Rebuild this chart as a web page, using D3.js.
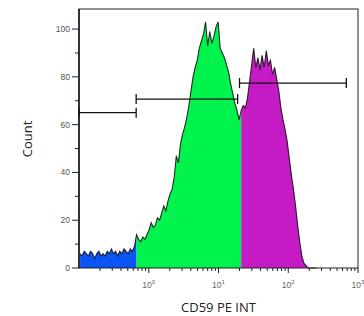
<!DOCTYPE html>
<html>
<head>
<meta charset="utf-8">
<script src="https://cdn.jsdelivr.net/npm/d3@7"></script>
<style>
  body { margin: 0; background: #fff; }
  text { font-family: "Liberation Sans", Arial, sans-serif; }
  text.title { font-family: "Open Sans", "Noto Sans", sans-serif; }
</style>
</head>
<body>
<div id="fig"></div>
<script>
const fig_width = 364
const fig_height = 316
const margin = {left: 79, top: 9, right: 6, bottom: 48}

// histogram bins: log10 start and width (decades), counts
const bin_start = -1
const bin_width = 0.03
const counts = [
  6, 5, 7, 6, 5, 7, 6, 4, 6, 7,
  5, 6, 5, 7, 6, 8, 6, 7, 5, 7,
  6, 8, 7, 6, 8, 7, 9, 14, 12, 11,
  13, 12, 14, 16, 19, 17, 18, 21, 20, 23,
  26, 24, 28, 31, 33, 38, 47, 44, 52, 56,
  59, 63, 68, 74, 80, 84, 87, 92, 95, 98,
  103, 93, 99, 94, 97, 101, 103, 92, 90, 88,
  85, 82, 77, 73, 69, 66, 62, 66, 68, 67,
  71, 78, 85, 92, 84, 88, 83, 89, 84, 91,
  85, 87, 81, 84, 79, 74, 67, 62, 58, 53,
  46, 39, 33, 26, 18, 11, 5, 2, 1, 0,
  0, 0, 0, 0
]

// regions split at bin index (blue / green / magenta)
const regions = [
  {name: 'low', from: 0, to: 27, colour: '#0a55f5'},
  {name: 'mid', from: 27, to: 77, colour: '#00f24c'},
  {name: 'high', from: 77, to: counts.length, colour: '#c51bc5'}
]

// gates: [low, high] on the linear axis, y level in counts
const gates = [
  {lo: 0.1, hi: 0.66, level: 65},
  {lo: 0.66, hi: 18.8, level: 70.7},
  {lo: 20.0, hi: 680, level: 77.4}
]

const y_ticks = [0, 20, 40, 60, 80, 100]
const y_minor = [10, 30, 50, 70, 90]
const x_decades = [0, 1, 2, 3]

let fig = d3.select('#fig')
    .append('svg')
    .attr('width', fig_width)
    .attr('height', fig_height)

let iw = fig_width - margin.left - margin.right
let ih = fig_height - margin.top - margin.bottom

let xScale = d3.scaleLog().domain([0.1, 1000]).range([margin.left, margin.left + iw])
let yScale = d3.scaleLinear().domain([0, 108.4]).range([margin.top + ih, margin.top])

let bins = counts.map((c, i) => ({
    i: i,
    v: Math.pow(10, bin_start + bin_width * (i + 0.5)),
    c: c
}))

let area = d3.area()
    .x(d => xScale(d.v))
    .y0(yScale(0))
    .y1(d => yScale(d.c))

// each filled region, sharing its edge bin with the next so there are no gaps
regions.forEach(r => {
    let part = bins.slice(r.from, Math.min(r.to + 1, bins.length))
    fig.append('path')
        .datum(part)
        .attr('fill', r.colour)
        .attr('d', area)
})

fig.append('path')
    .datum(bins)
    .attr('fill', 'none')
    .attr('stroke', '#000')
    .attr('stroke-opacity', 0.8)
    .attr('stroke-width', 1.1)
    .attr('d', d3.line().x(d => xScale(d.v)).y(d => yScale(d.c)))

// frame
fig.append('rect')
    .attr('x', margin.left)
    .attr('y', margin.top)
    .attr('width', iw)
    .attr('height', ih)
    .attr('fill', 'none')
    .attr('stroke', '#222')
    .attr('stroke-width', 1)

fig.append('line')
    .attr('x1', margin.left).attr('x2', margin.left)
    .attr('y1', margin.top).attr('y2', margin.top + ih)
    .attr('stroke', '#1a1a2a')
    .attr('stroke-width', 1.6)

// y axis ticks
y_ticks.forEach(t => {
    fig.append('line')
        .attr('x1', margin.left - 7).attr('x2', margin.left)
        .attr('y1', yScale(t)).attr('y2', yScale(t))
        .attr('stroke', '#222')
    fig.append('text')
        .attr('x', margin.left - 9)
        .attr('y', yScale(t) + 3)
        .attr('text-anchor', 'end')
        .attr('font-size', 8.5)
        .attr('fill', '#555')
        .text(t)
})
y_minor.forEach(t => {
    fig.append('line')
        .attr('x1', margin.left - 4).attr('x2', margin.left)
        .attr('y1', yScale(t)).attr('y2', yScale(t))
        .attr('stroke', '#222')
})

// x axis ticks (log)
let base_y = margin.top + ih
x_decades.forEach(p => {
    let v = Math.pow(10, p)
    fig.append('line')
        .attr('x1', xScale(v)).attr('x2', xScale(v))
        .attr('y1', base_y).attr('y2', base_y + 5)
        .attr('stroke', '#222')
    let lbl = fig.append('text')
        .attr('x', xScale(v))
        .attr('y', base_y + 20)
        .attr('text-anchor', 'middle')
        .attr('font-size', 8.5)
        .attr('fill', '#666')
    lbl.append('tspan').text('10')
    lbl.append('tspan').attr('dy', -4).attr('font-size', 6).text(p)
})
d3.range(-1, 3).forEach(p => {
    d3.range(2, 10).forEach(m => {
        let v = m * Math.pow(10, p)
        fig.append('line')
            .attr('x1', xScale(v)).attr('x2', xScale(v))
            .attr('y1', base_y).attr('y2', base_y + 3)
            .attr('stroke', '#222')
    })
})

// gates
gates.forEach(g => {
    let gy = yScale(g.level)
    fig.append('line')
        .attr('x1', xScale(g.lo)).attr('x2', xScale(g.hi))
        .attr('y1', gy).attr('y2', gy)
        .attr('stroke', '#111').attr('stroke-width', 1.3)
    ;[g.lo, g.hi].forEach(v => {
        fig.append('line')
            .attr('x1', xScale(v)).attr('x2', xScale(v))
            .attr('y1', gy - 5).attr('y2', gy + 5)
            .attr('stroke', '#111').attr('stroke-width', 1.3)
    })
})

// axis titles
fig.append('text')
    .attr('class', 'title')
    .attr('x', (margin.left + margin.left + iw) / 2)
    .attr('y', 312)
    .attr('text-anchor', 'middle')
    .attr('font-size', 13)
    .attr('fill', '#222')
    .text('CD59 PE INT')

fig.append('text')
    .attr('class', 'title')
    .attr('transform', 'translate(32,139) rotate(-90)')
    .attr('text-anchor', 'middle')
    .attr('font-size', 13)
    .attr('fill', '#222')
    .text('Count')
</script>
</body>
</html>
